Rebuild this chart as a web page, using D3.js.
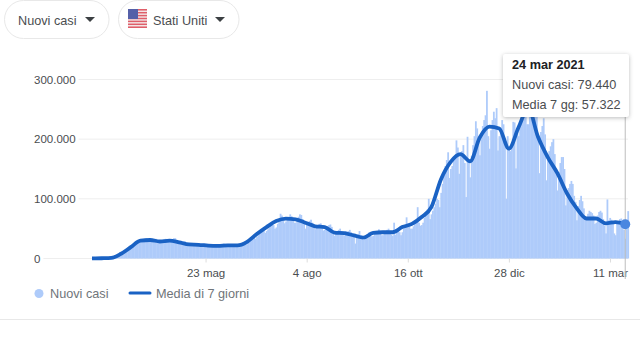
<!DOCTYPE html>
<html lang="it">
  <head>
    <meta charset="utf-8" />
    <title>Nuovi casi - Stati Uniti</title>
    <script src="https://d3js.org/d3.v7.min.js"></script>
    <style>
      html, body { margin: 0; padding: 0; background: #fff; overflow: hidden; }
      svg { display: block; font-family: "Liberation Sans", Arial, sans-serif; }
    </style>
  </head>
  <body>
    <div id="chart"></div>
    <script>
      // first day of the series, one value per day after it
      const startDate = "2020-03-02";

      // daily new cases in thousands, one row per week (Mon..Sun)
      const dailyCases = [
        0.1, 0.1, 0.1, 0.1, 0.2, 0.2, 0.2,
        0.3, 0.3, 0.3, 0.4, 0.5, 0.6, 0.7,
        0.7, 1, 1.3, 1.8, 2.3, 3, 4,
        5, 6, 8, 10, 13, 16, 18,
        19, 20, 22, 24, 27, 29, 29,
        30, 31, 32, 33, 34, 33, 31,
        31, 31, 32, 33, 33, 31, 29,
        28, 29, 30, 32, 33, 31, 29,
        29, 29, 31, 34, 34, 31, 27,
        27, 27, 28, 29, 29, 26, 24,
        24, 24, 25, 26, 26, 25, 23,
        23, 23, 24, 24, 25, 23, 21,
        21, 21, 21, 22, 24, 23, 20,
        20, 21, 21, 22, 25, 22, 20,
        21, 22, 22, 23, 24, 23, 21,
        21, 22, 23, 24, 25, 24, 23,
        24, 27, 30, 33, 36, 35, 33,
        36, 39, 41, 44, 47, 46, 43,
        46, 49, 52, 55, 58, 56, 50,
        52, 58, 61, 75, 72, 66, 59,
        62, 66, 68, 74, 71, 66, 60,
        60, 64, 70, 74, 73, 66, 58,
        50, 60, 58, 63, 65, 60, 54,
        49, 54, 56, 58, 59, 55, 47,
        48, 52, 54, 56, 57, 53, 44,
        38, 46, 45, 48, 50, 46, 40,
        38, 46, 44, 46, 48, 44, 36,
        36, 25, 39, 41, 46, 39, 33,
        31, 33, 36, 38, 44, 38, 37,
        38, 42, 44, 46, 49, 46, 39,
        39, 43, 45, 48, 50, 46, 40,
        38, 60, 40, 45, 49, 44, 39,
        44, 50, 54, 69, 57, 54, 50,
        50, 54, 59, 62, 86, 60, 55,
        56, 60, 68, 74, 82, 100, 66,
        74, 80, 86, 92, 100, 98, 86,
        110, 125, 140, 155, 165, 178, 135,
        150, 155, 165, 172, 198, 186, 142,
        172, 180, 190, 160, 103, 204, 165,
        136, 172, 190, 205, 230, 218, 195,
        173, 205, 222, 232, 240, 281, 205,
        184, 215, 232, 246, 235, 252, 181,
        205, 218, 232, 225, 200, 100, 205,
        185, 180, 190, 229, 228, 151, 212,
        205, 225, 240, 255, 262, 245, 225,
        225, 245, 265, 290, 300, 285, 240,
        200, 143, 212, 222, 235, 208, 131,
        175, 180, 188, 195, 200, 175, 150,
        114, 145, 160, 170, 170, 150, 89,
        115, 118, 125, 130, 125, 105, 95,
        64, 88, 98, 105, 96, 84, 70,
        68, 75, 80, 78, 76, 72, 58,
        60, 72, 78, 80, 77, 66, 55,
        42, 99, 64, 68, 65, 60, 42,
        39, 58, 62, 66, 67, 57, 48,
        33, 55, 79.44,
      ];

      // 7 day average in thousands, one reading per week, last one on 24 mar
      const weeklyAverage = [
        0.1, 0.4, 1, 8, 19, 30, 31, 28.5, 30, 27, 23.5, 23, 21.5, 21, 22, 22,
        28, 41, 52.6, 62.7, 66.7, 65.5, 60, 54, 52.6, 43.5, 42.7, 38.6, 35, 43,
        44, 44, 52.6, 58, 69.5, 86, 133, 162, 175, 163, 203, 221, 218, 184, 220,
        252, 204, 170, 143, 109, 84, 67, 67, 59, 61, 57.322,
      ];

      const yTicks = [0, 100000, 200000, 300000];
      const xTickDates = ["2020-05-23", "2020-08-04", "2020-10-16", "2020-12-28", "2021-03-11"];
      const xTickLabels = ["23 mag", "4 ago", "16 ott", "28 dic", "11 mar"];

      const parseDay = d3.utcParse("%Y-%m-%d");
      const first = parseDay(startDate);
      const dayAt = (i) => d3.utcDay.offset(first, i);
      const lastIndex = dailyCases.length - 1;

      const cases = dailyCases.map((v, i) => ({ date: dayAt(i), value: v * 1000 }));
      const average = weeklyAverage.map((v, i) => ({
        date: dayAt(Math.min(i * 7, lastIndex)),
        value: v * 1000,
      }));
      const last = average[average.length - 1];

      const itFormat = d3.formatLocale({
        decimal: ",",
        thousands: ".",
        grouping: [3],
        currency: ["€", ""],
      }).format(",d");

      const width = 640,
        height = 360;

      const x = d3.scaleUtc().domain([first, dayAt(lastIndex)]).range([92, 628]);
      const y = d3.scaleLinear().domain([0, 300000]).range([258.5, 79.5]);

      const svg = d3
        .select("#chart")
        .append("svg")
        .attr("width", width)
        .attr("height", height);

      // top buttons
      function pill(left, right, label, textX, arrowX) {
        svg.append("rect")
          .attr("x", left).attr("y", 0.5)
          .attr("width", right - left).attr("height", 38)
          .attr("rx", 19)
          .attr("fill", "#fff").attr("stroke", "#e8e8e8");
        svg.append("text")
          .attr("x", textX).attr("y", 25)
          .style("font-size", "12.7px").attr("fill", "#4a4d50")
          .text(label);
        svg.append("path")
          .attr("d", `M${arrowX},17 h10 l-5,5 z`)
          .attr("fill", "#3c4043");
      }
      pill(4.5, 109, "Nuovi casi", 18, 85);
      pill(118.5, 239, "Stati Uniti", 153, 215);

      // flag
      const flag = svg.append("g").attr("transform", "translate(128,9)");
      flag.append("rect").attr("width", 19).attr("height", 19).attr("rx", 2).attr("fill", "#f4f4f4");
      d3.range(0, 7).forEach((i) => {
        flag.append("rect")
          .attr("y", i * 2.9)
          .attr("width", 19).attr("height", 1.6)
          .attr("fill", "#df5f6a");
      });
      flag.append("rect").attr("width", 10).attr("height", 10).attr("fill", "#5560a8");

      // y grid and labels, each line starts after its label
      yTicks.forEach((t) => {
        const label = svg.append("text")
          .attr("x", 34).attr("y", y(t) + 4)
          .style("font-size", "11.5px").attr("fill", "#4a4d50")
          .text(itFormat(t));
        const end = 34 + label.node().getComputedTextLength() + 3;
        svg.append("line")
          .attr("x1", end).attr("x2", 628)
          .attr("y1", y(t)).attr("y2", y(t))
          .attr("stroke", "#eeeeee");
      });

      // bars
      const barWidth = x(dayAt(1)) - x(dayAt(0));
      svg.append("g")
        .selectAll("rect")
        .data(cases)
        .enter()
        .append("rect")
        .attr("x", (d) => x(d.date) - barWidth / 2)
        .attr("y", (d) => y(d.value))
        .attr("width", barWidth + 0.4)
        .attr("height", (d) => y(0) - y(d.value))
        .attr("fill", "#aecbfa");

      // x axis
      const xAxis = svg.append("g")
        .attr("transform", `translate(0,${y(0)})`)
        .call(
          d3.axisBottom(x)
            .tickValues(xTickDates.map(parseDay))
            .tickSize(4)
            .tickFormat((d, i) => xTickLabels[i])
        );
      xAxis.select(".domain").remove();
      xAxis.selectAll("line").attr("stroke", "#dddddd");
      xAxis.selectAll("text")
        .attr("y", 10)
        .style("font-size", "11.5px")
        .style("font-family", '"Liberation Sans", Arial, sans-serif')
        .attr("fill", "#4a4d50");

      // cursor line
      svg.append("line")
        .attr("x1", x(last.date)).attr("x2", x(last.date))
        .attr("y1", 54).attr("y2", 279)
        .attr("stroke", "#bdbdbd");

      // 7 day average
      const line = d3.line()
        .x((d) => x(d.date))
        .y((d) => y(d.value))
        .curve(d3.curveMonotoneX);

      svg.append("path")
        .datum(average)
        .attr("d", line)
        .attr("fill", "none")
        .attr("stroke", "#1a62c4")
        .attr("stroke-width", 3.8)
        .attr("stroke-linejoin", "round");

      svg.append("circle")
        .attr("cx", x(last.date)).attr("cy", y(last.value))
        .attr("r", 5)
        .attr("fill", "#4a86e0");

      // legend
      svg.append("circle")
        .attr("cx", 39).attr("cy", 293.5).attr("r", 4.5)
        .attr("fill", "#aecbfa");
      svg.append("text")
        .attr("x", 50).attr("y", 298)
        .style("font-size", "12.7px").attr("fill", "#70757a")
        .text("Nuovi casi");
      svg.append("line")
        .attr("x1", 130).attr("x2", 150)
        .attr("y1", 293).attr("y2", 293)
        .attr("stroke", "#1a62c4").attr("stroke-width", 3).attr("stroke-linecap", "round");
      svg.append("text")
        .attr("x", 156).attr("y", 298)
        .style("font-size", "12.7px").attr("fill", "#70757a")
        .text("Media di 7 giorni");

      svg.append("line")
        .attr("x1", 0).attr("x2", width)
        .attr("y1", 319.5).attr("y2", 319.5)
        .attr("stroke", "#e8e8e8");

      // tooltip
      const tip = svg.append("g").attr("transform", "translate(503,54)");
      tip.append("rect")
        .attr("width", 126).attr("height", 63).attr("rx", 2)
        .attr("fill", "#fff")
        .style("filter", "drop-shadow(0px 1px 2px rgba(60,64,67,0.35))");
      tip.append("text")
        .attr("x", 9).attr("y", 15)
        .style("font-size", "12.7px").style("font-weight", "bold").attr("fill", "#202124")
        .text("24 mar 2021");
      tip.append("text")
        .attr("x", 9).attr("y", 35)
        .style("font-size", "12.7px").attr("fill", "#4a4d50")
        .text("Nuovi casi: " + itFormat(cases[lastIndex].value));
      tip.append("text")
        .attr("x", 9).attr("y", 55)
        .style("font-size", "12.7px").attr("fill", "#4a4d50")
        .text("Media 7 gg: " + itFormat(last.value));
    </script>
  </body>
</html>
